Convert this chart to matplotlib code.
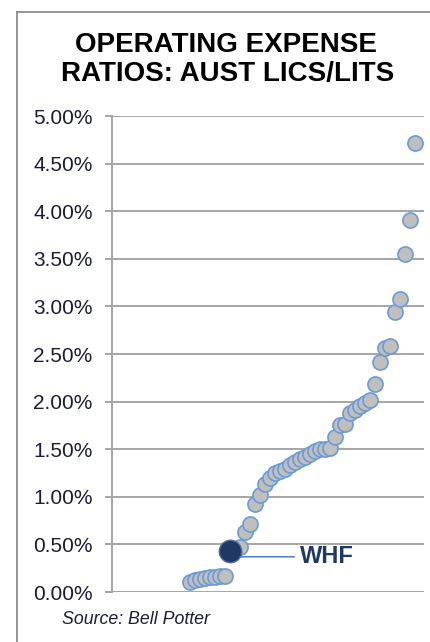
import matplotlib
matplotlib.use("Agg")
import matplotlib.pyplot as plt
from matplotlib.lines import Line2D
from matplotlib.ticker import FuncFormatter

# Data (operating expense ratios, %, sorted)
ratios = [0.11, 0.13, 0.14, 0.15, 0.155, 0.16, 0.165, 0.17,
          0.43, 0.45, 0.47, 0.63, 0.71, 0.92, 1.02, 1.13, 1.20, 1.25,
          1.27, 1.29, 1.33, 1.37, 1.40, 1.42, 1.45, 1.48, 1.50, 1.50,
          1.51, 1.63, 1.75, 1.76, 1.88, 1.91, 1.95, 1.99, 2.02, 2.19,
          2.42, 2.56, 2.58, 2.94, 3.08, 3.55, 3.91, 4.72]
ranks = list(range(1, len(ratios) + 1))
whf_rank = 9
whf_value = 0.43
whf_label = "WHF"
yticks = [0.0, 0.5, 1.0, 1.5, 2.0, 2.5, 3.0, 3.5, 4.0, 4.5, 5.0]
title_lines = ["OPERATING EXPENSE", "RATIOS: AUST LICS/LITS"]
source = "Source: Bell Potter"

plt.rcParams['font.family'] = ['Liberation Sans', 'DejaVu Sans']

W, H = 430, 642
fig = plt.figure(figsize=(W / 100, H / 100), dpi=100)
fig.patch.set_facecolor('white')

ax = fig.add_axes([112 / W, 1 - 592 / H, (424 - 112) / W, (592 - 116) / H])
ax.set_xlim(-14.6, 47.8)
ax.set_ylim(0, 5.0)

grid_c = '#A6A6A6'
for v in yticks:
    ax.axhline(v, color=grid_c, lw=1.4, zorder=1)
for s in ['top', 'right', 'bottom']:
    ax.spines[s].set_visible(False)
ax.spines['left'].set_color(grid_c)
ax.spines['left'].set_linewidth(1.4)
ax.set_yticks(yticks)
ax.yaxis.set_major_formatter(FuncFormatter(lambda v, p: f"{v:.2f}%"))
ax.tick_params(axis='y', length=5, width=1.4, color=grid_c, pad=9,
               labelsize=15, labelcolor='#1c1c3a')
ax.set_xticks([])

# series
ax.scatter(ranks, ratios, s=118, facecolor='#BFBFBF', edgecolor='#6A9BD8',
           linewidths=1.2, zorder=3)

# WHF highlight
label_y = 0.37
ax.annotate(whf_label, xy=(whf_rank, label_y), xytext=(23.0, label_y),
            fontsize=17, fontweight='bold', color='#1F3864', va='center', ha='left',
            arrowprops=dict(arrowstyle='-', color='#4F81BD', lw=1.1,
                            shrinkA=2, shrinkB=0), zorder=2)
ax.scatter([whf_rank], [whf_value], s=260, facecolor='#1F3864',
           edgecolor='#4F6FA0', linewidths=1.0, zorder=4)

# title
fig.text(226 / W, 1 - 45 / H, title_lines[0], ha='center', va='center',
         fontsize=20, fontweight='bold', color='black')
fig.text(228 / W, 1 - 74 / H, title_lines[1], ha='center', va='center',
         fontsize=20, fontweight='bold', color='black')

# source
fig.text(62 / W, 1 - 620 / H, source, ha='left', va='center',
         fontsize=12.8, fontstyle='italic', color='#1c1c3a')

# border (left and top)
bc = '#8C8C8C'
fig.add_artist(Line2D([17 / W, 17 / W], [0, 1 - 12 / H], color=bc, lw=1.3,
                      transform=fig.transFigure))
fig.add_artist(Line2D([17 / W, 1], [1 - 12 / H, 1 - 12 / H], color=bc, lw=1.3,
                      transform=fig.transFigure))

fig.savefig('out.png', dpi=100)
